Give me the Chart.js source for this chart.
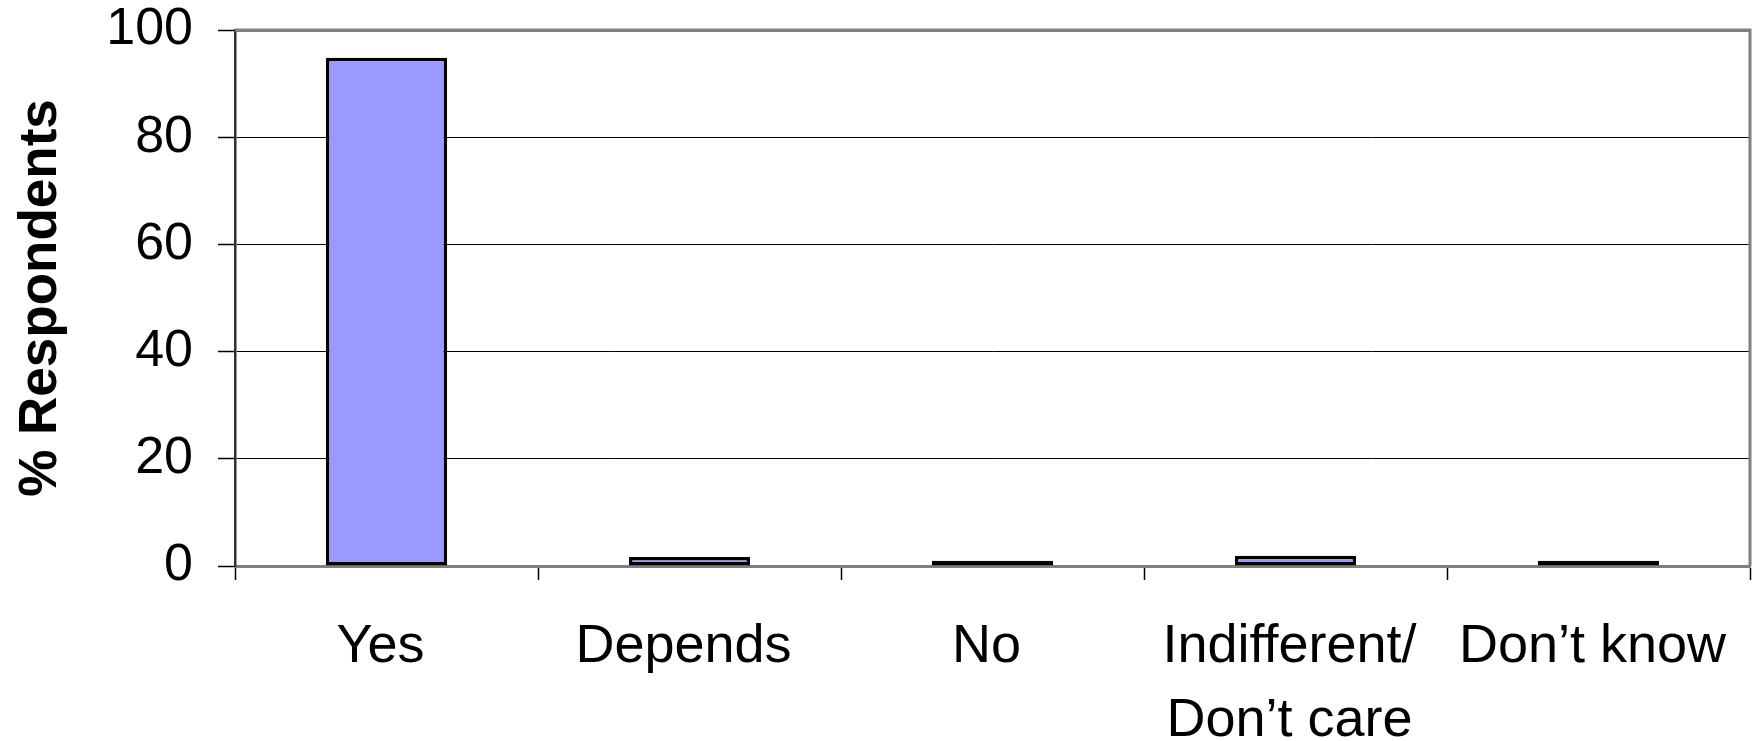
<!DOCTYPE html>
<html>
<head>
<meta charset="utf-8">
<script src="https://cdn.jsdelivr.net/npm/chart.js@4/dist/chart.umd.min.js"></script>
<style>
  html, body { margin: 0; padding: 0; background: #fff; }
  #wrap { width: 1754px; height: 741px; position: relative; }
</style>
</head>
<body>
<div id="wrap"><canvas id="chart" width="1754" height="741"></canvas></div>
<script>
// Survey answers and the share of respondents for each
const categories = ['Yes', 'Depends', 'No', ['Indifferent/', 'Don\u2019t care'], 'Don\u2019t know'];
const respondents = [94.8, 1.7, 1.0, 1.9, 1.0];
const yTicks = [0, 20, 40, 60, 80, 100];

const FONT = '"Liberation Sans", Arial, sans-serif';

// Grey frame along the top and right edge of the plot area
const frame = {
  id: 'frame',
  afterDatasetsDraw(chart) {
    const { ctx, chartArea: a } = chart;
    ctx.save();
    ctx.strokeStyle = '#808080';
    ctx.lineWidth = 3;
    ctx.beginPath();
    ctx.moveTo(a.left, a.top);
    ctx.lineTo(a.right, a.top);
    ctx.lineTo(a.right, a.bottom);
    ctx.stroke();
    ctx.restore();
  }
};

new Chart(document.getElementById('chart'), {
  type: 'bar',
  data: {
    labels: categories,
    datasets: [{
      data: respondents,
      backgroundColor: '#9999FF',
      borderColor: '#000000',
      borderWidth: 3.5,
      borderSkipped: false,
      categoryPercentage: 1.0,
      barPercentage: 0.4
    }]
  },
  options: {
    responsive: false,
    animation: false,
    layout: { padding: { top: 30, right: 4, left: 0, bottom: 0 } },
    plugins: { legend: { display: false }, tooltip: { enabled: false } },
    scales: {
      x: {
        grid: {
          offset: true,
          drawOnChartArea: false,
          drawTicks: true,
          tickLength: 14,
          tickWidth: 1.5,
          tickColor: '#000'
        },
        border: { display: true, color: '#808080', width: 3 },
        ticks: {
          color: '#000',
          padding: 30,
          labelOffset: -6,
          maxRotation: 0,
          autoSkip: false,
          font: { family: FONT, size: 54, lineHeight: 1.37 }
        },
        afterFit(s) {
          s.height = 175;
          s.paddingLeft = 0;
          s.paddingRight = 0;
        }
      },
      y: {
        min: 0,
        max: 100,
        afterBuildTicks(s) { s.ticks = yTicks.map(v => ({ value: v })); },
        grid: {
          color: ctx => (ctx.tick && ctx.tick.value === 100) ? '#808080' : '#000',
          lineWidth: ctx => (ctx.tick && ctx.tick.value === 100) ? 3 : 1,
          tickLength: 17,
          tickColor: '#000',
          tickWidth: 1.5
        },
        border: { display: true, color: '#303030', width: 2.5 },
        ticks: {
          color: '#000',
          padding: 25,
          font: { family: FONT, size: 52 }
        },
        title: {
          display: true,
          text: '% Respondents',
          color: '#000',
          padding: { top: 10, bottom: 0 },
          font: { family: FONT, size: 53, weight: 'bold' }
        },
        afterFit(s) {
          s.width = 235;
          s.paddingTop = 0;
          s.paddingBottom = 0;
        }
      }
    }
  },
  plugins: [frame]
});
</script>
</body>
</html>
